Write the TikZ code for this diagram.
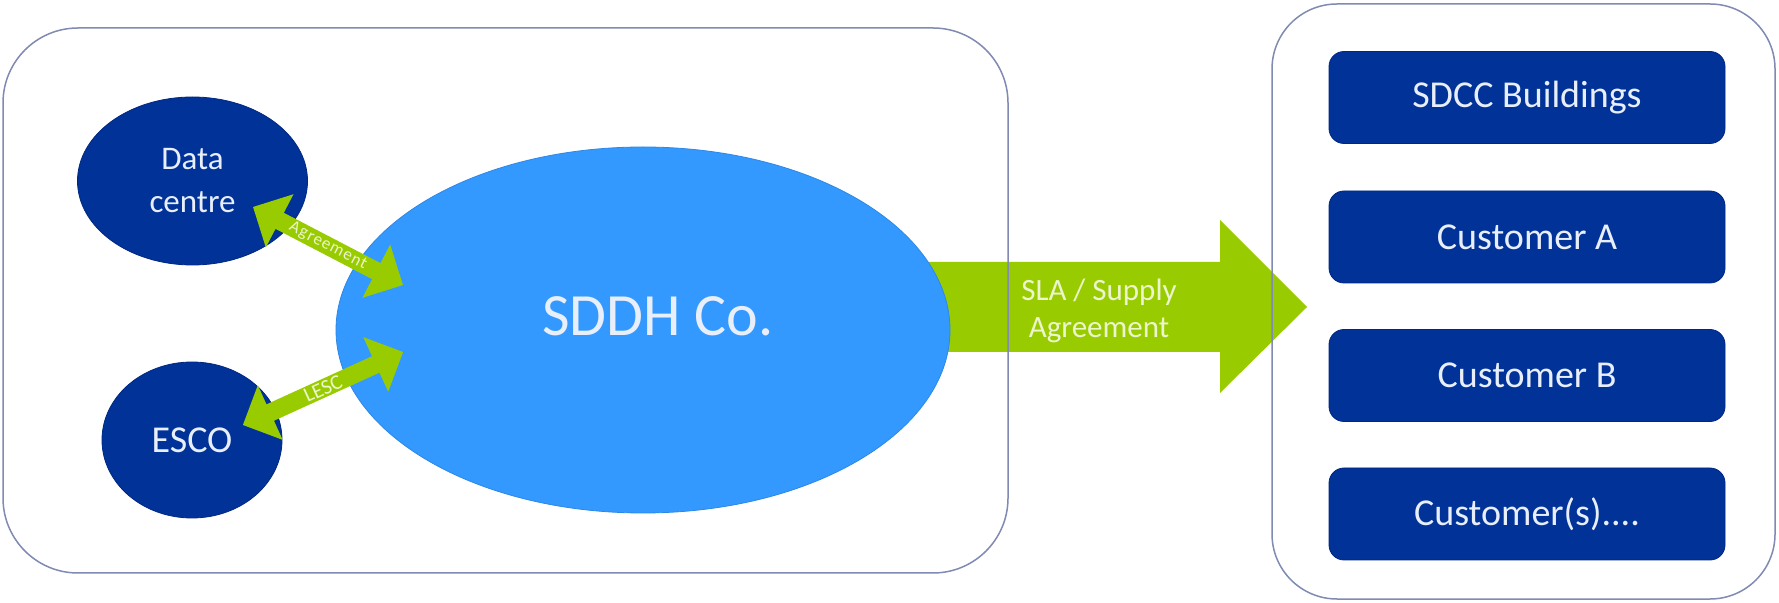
\documentclass[tikz,border=0pt]{standalone}
\usepackage{fontspec}
\setmainfont{Carlito}
\usetikzlibrary{shapes.geometric,shapes.arrows}
\definecolor{navy}{RGB}{0,50,152}
\definecolor{navyedge}{RGB}{0,40,130}
\definecolor{sky}{RGB}{51,153,255}
\definecolor{skyedge}{RGB}{45,135,230}
\definecolor{lime}{RGB}{153,204,0}
\definecolor{frame}{RGB}{128,138,178}
\definecolor{paletext}{RGB}{232,238,250}
\definecolor{limetext}{RGB}{236,245,205}
\begin{document}
\begin{tikzpicture}[x=1pt,y=1pt,
  container/.style={draw=frame, line width=1.5pt, inner sep=0pt},
  party/.style={ellipse, fill=navy, draw=navyedge, line width=0.8pt, inner sep=0pt, text=paletext, align=center},
  custbox/.style={rectangle, rounded corners=15pt, fill=navy, draw=navyedge, line width=0.8pt,
    minimum width=396pt, minimum height=92pt, inner sep=0pt, text=paletext, font=\fontsize{38}{44}\selectfont},
  twoway/.style={double arrow, fill=lime, inner sep=0pt, double arrow tip angle=90,
    minimum width=60pt, double arrow head extend=16.5pt, text=limetext}
]
\useasboundingbox (0,0) rectangle (1779,602);
\fill[white] (0,0) rectangle (1779,602);

% big supply arrow (behind everything)
\coordinate (slatip) at (1307,295);
\fill[lime] (905,340) -- (1220,340) -- (1220,382) -- (slatip) -- (1220,209) -- (1220,250) -- (905,250) -- cycle;

% containers
\node[container, rounded corners=75pt, minimum width=1005pt, minimum height=545pt] (leftbox) at (505.5,301.5) {};
\node[container, rounded corners=65pt, minimum width=503pt, minimum height=595pt] (rightbox) at (1523.5,300.5) {};

% supply arrow label
\node[text=limetext, align=center, inner sep=0pt, font=\fontsize{31}{37}\selectfont] (sla) at (1099,291) {SLA / Supply\\Agreement};

% central company
\node[ellipse, fill=sky, draw=skyedge, line width=0.8pt, inner sep=0pt, minimum width=614pt, minimum height=366pt] (sddh) at (643,272) {};
\node[text=paletext, inner sep=0pt, font=\fontsize{60}{66}\selectfont] (sddhlabel) at (658,285.5) {SDDH Co.};

% parties
\node[party, minimum width=230pt, minimum height=168pt, font=\fontsize{33}{43}\selectfont] (dc) at (192.5,421) {Data\\centre};
\node[party, minimum width=180pt, minimum height=156pt, font=\fontsize{38}{44}\selectfont] (esco) at (192,162) {ESCO};

% agreements
\node[twoway, minimum height=169pt, rotate=-27.5, font=\fontsize{17}{17}\selectfont\addfontfeature{LetterSpace=6}] (agr) at (328,356) {Agreement};
\node[twoway, minimum height=176pt, rotate=24.5, font=\fontsize{21}{21}\selectfont] (lesc) at (323,213.5) {LESC};

% customers
\node[custbox] (sdcc) at (1527,504.5) {SDCC Buildings};
\node[custbox] (ca) at (1527,365) {Customer A};
\node[custbox] (cb) at (1527,226.5) {Customer B};
\node[custbox] (cs) at (1527,88) {Customer(s)....};
\end{tikzpicture}
\end{document}
